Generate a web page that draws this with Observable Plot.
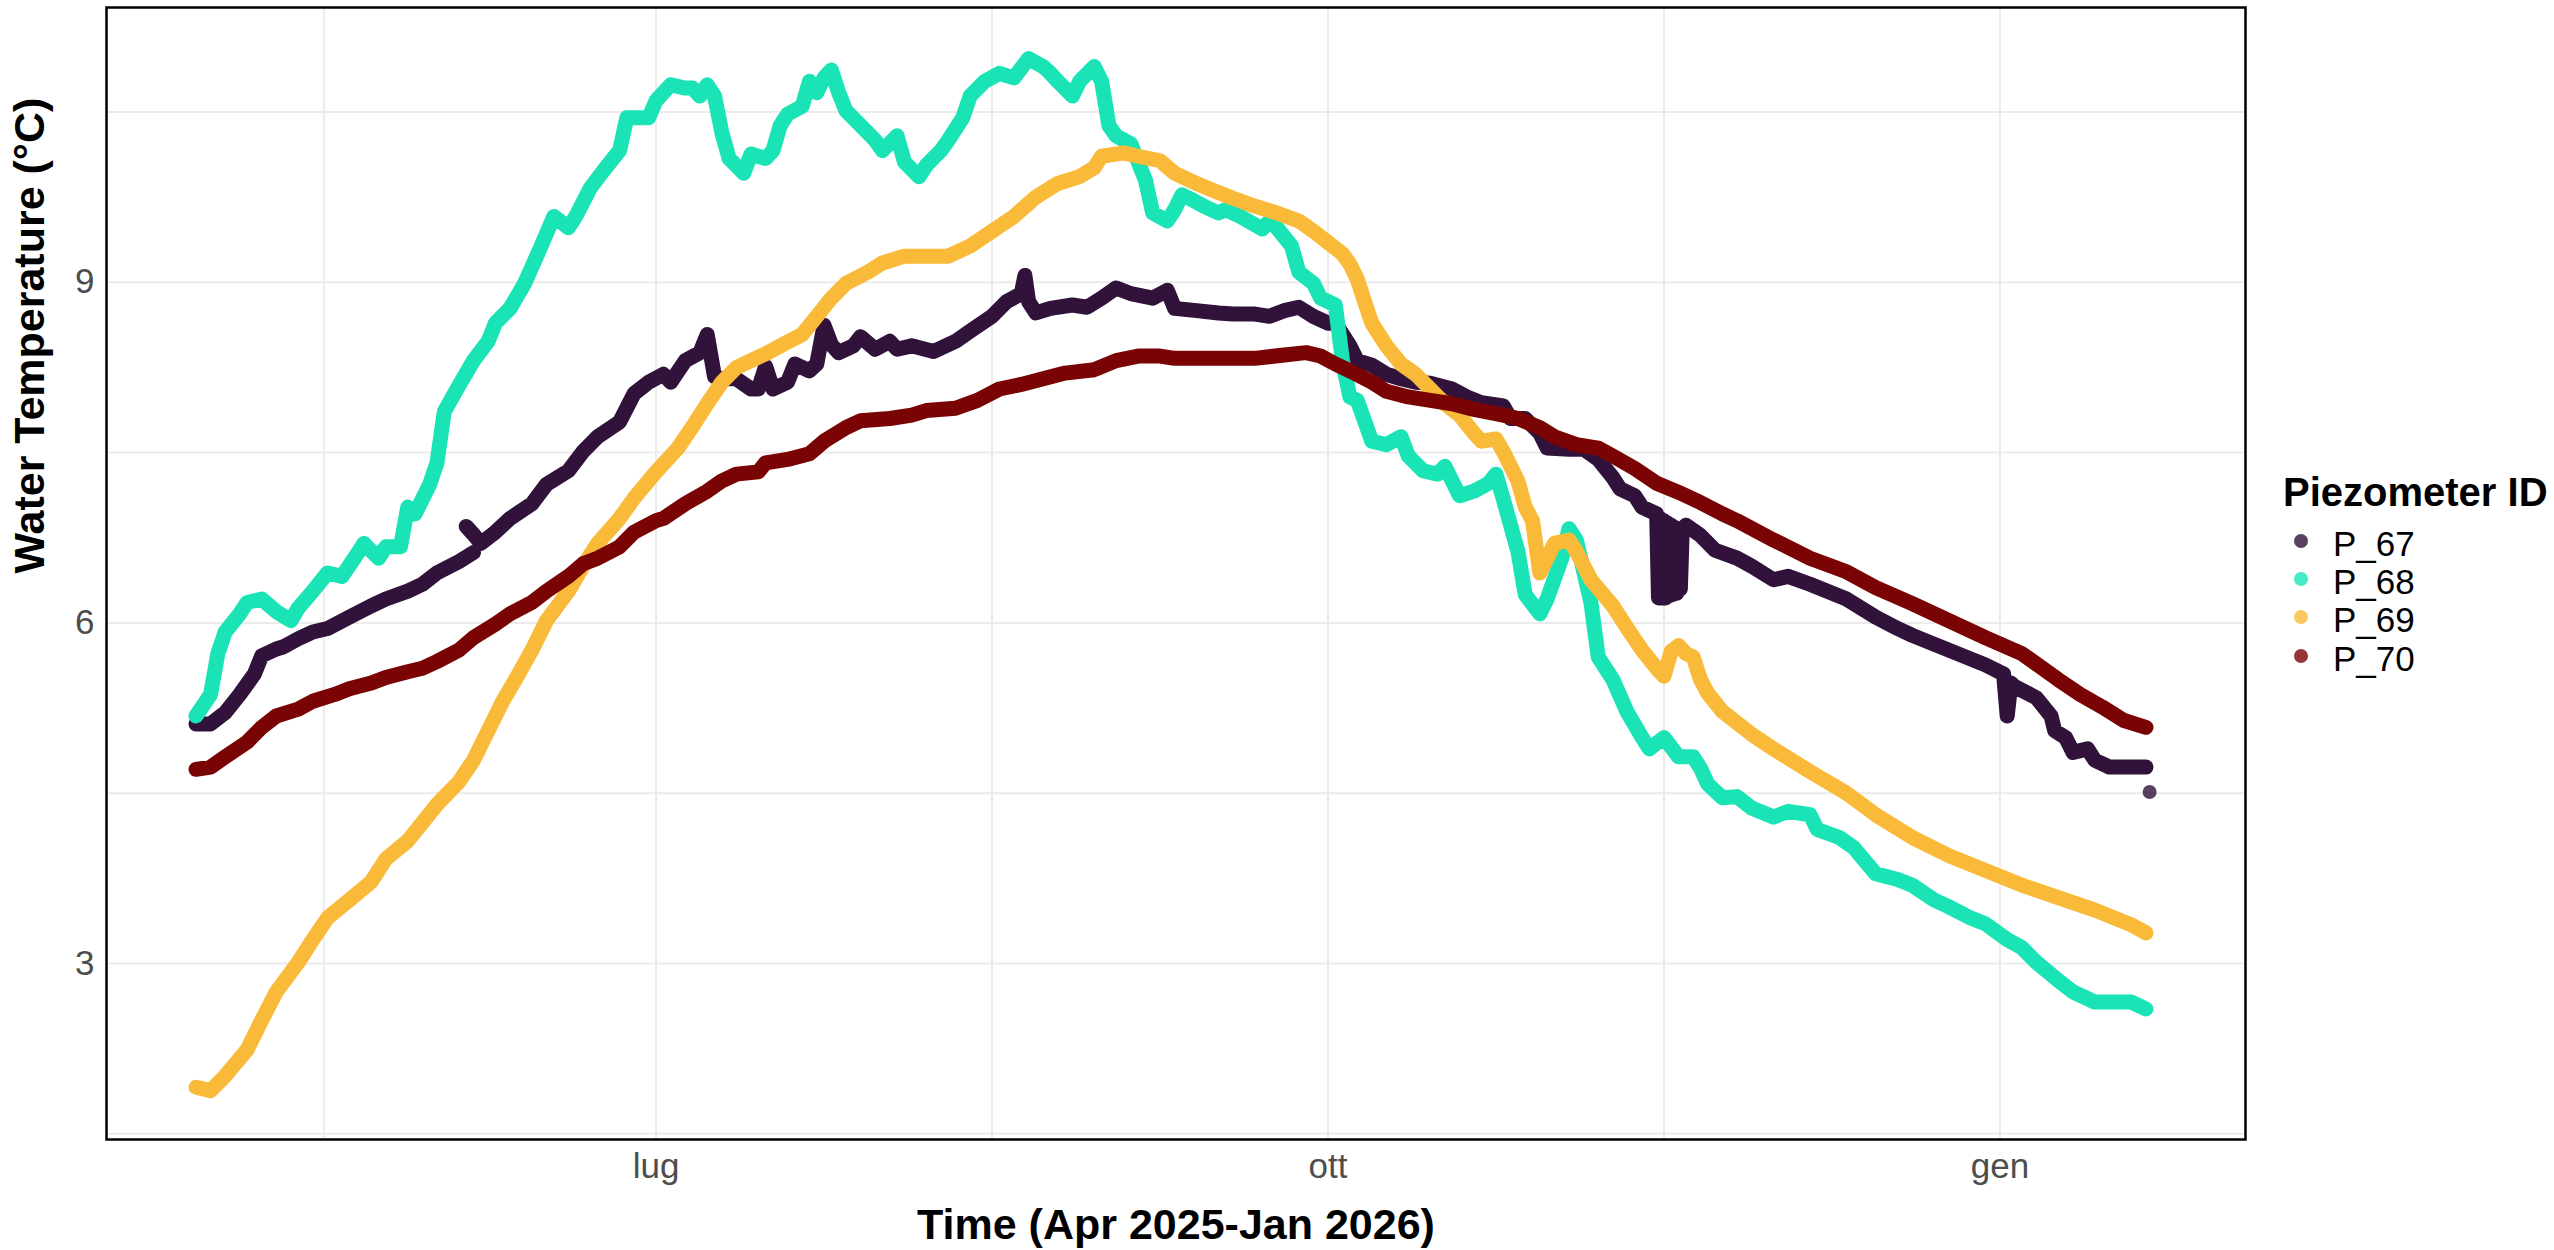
<!DOCTYPE html>
<html>
<head>
<meta charset="utf-8">
<script src="https://cdn.jsdelivr.net/npm/d3@7"></script>
<script src="https://cdn.jsdelivr.net/npm/@observablehq/plot@0.6"></script>
<style>
  html, body { margin: 0; padding: 0; background: #ffffff; }
  #wrap { position: relative; width: 2554px; height: 1250px; font-family: "Liberation Sans", Arial, sans-serif; }
  #legend { position: absolute; left: 0; top: 0; width: 0; height: 0; }
  .lg-title { position: absolute; left: 2283px; font-size: 40px; font-weight: bold; line-height: 1; white-space: nowrap; color: #000; }
  .lg-item { position: absolute; left: 2333px; font-size: 35px; line-height: 1; white-space: nowrap; color: #000; }
  .lg-dot { position: absolute; width: 14px; height: 14px; border-radius: 50%; opacity: 0.8; }
  g[aria-label="x-axis tick label"], g[aria-label="y-axis tick label"] { fill: #4d4d4d; }
</style>
</head>
<body>
<div id="wrap"><div id="chart"></div><div id="legend"></div></div>
<script>
// ---- data ----
const seriesIds = ["P_67", "P_68", "P_69", "P_70"];
const seriesColors = ["#30123B", "#1AE4B6", "#FABA39", "#7A0403"];

const xTickDates = ["2025-07-01", "2025-10-01", "2026-01-01"];
const xTickLabels = ["lug", "ott", "gen"];
const xMinorDates = ["2025-05-16T12:00Z", "2025-08-16", "2025-11-16"];
const yTicks = [3, 6, 9];
const yMinorTicks = [1.5, 4.5, 7.5, 10.5];
const xDomain = ["2025-04-16T18:00Z", "2026-02-03T15:00Z"];
const yDomain = [1.45, 11.42];

const p67 = [
  ["2025-04-29", 5.11], ["2025-05-01", 5.11], ["2025-05-03", 5.21], ["2025-05-05", 5.37],
  ["2025-05-07", 5.55], ["2025-05-08", 5.71], ["2025-05-10", 5.77], ["2025-05-11", 5.79],
  ["2025-05-13", 5.86], ["2025-05-15", 5.92], ["2025-05-17", 5.95], ["2025-05-20", 6.05],
  ["2025-05-23", 6.15], ["2025-05-25", 6.21], ["2025-05-28", 6.28], ["2025-05-30", 6.34],
  ["2025-06-01", 6.44], ["2025-06-04", 6.54], ["2025-06-06", 6.62],
  ["2025-06-06", null],
  ["2025-06-05", 6.85], ["2025-06-06", 6.78], ["2025-06-07", 6.70], ["2025-06-09", 6.80],
  ["2025-06-11", 6.92], ["2025-06-14", 7.05], ["2025-06-16", 7.22], ["2025-06-19", 7.34],
  ["2025-06-21", 7.51], ["2025-06-23", 7.64], ["2025-06-26", 7.77], ["2025-06-28", 8.02],
  ["2025-06-30", 8.12], ["2025-07-02", 8.19], ["2025-07-03", 8.12], ["2025-07-05", 8.31],
  ["2025-07-07", 8.38], ["2025-07-08", 8.54], ["2025-07-09", 8.17], ["2025-07-10", 8.15],
  ["2025-07-12", 8.15], ["2025-07-14", 8.06], ["2025-07-15", 8.06], ["2025-07-16", 8.26],
  ["2025-07-17", 8.06], ["2025-07-19", 8.12], ["2025-07-20", 8.28], ["2025-07-22", 8.22],
  ["2025-07-23", 8.28], ["2025-07-24", 8.62], ["2025-07-25", 8.45], ["2025-07-26", 8.38],
  ["2025-07-28", 8.44], ["2025-07-29", 8.52], ["2025-07-31", 8.41], ["2025-08-02", 8.48],
  ["2025-08-03", 8.41], ["2025-08-05", 8.44], ["2025-08-08", 8.39], ["2025-08-11", 8.48],
  ["2025-08-13", 8.57], ["2025-08-16", 8.70], ["2025-08-18", 8.83], ["2025-08-20", 8.90],
  ["2025-08-20T12:00Z", 9.06], ["2025-08-21", 8.83], ["2025-08-22", 8.73], ["2025-08-24", 8.77],
  ["2025-08-27", 8.80], ["2025-08-29", 8.78], ["2025-08-31", 8.86], ["2025-09-02", 8.95],
  ["2025-09-04", 8.90], ["2025-09-07", 8.86], ["2025-09-09", 8.93], ["2025-09-10", 8.77],
  ["2025-09-13", 8.75], ["2025-09-16", 8.73], ["2025-09-18", 8.72], ["2025-09-21", 8.72],
  ["2025-09-23", 8.70], ["2025-09-25", 8.75], ["2025-09-27", 8.78], ["2025-09-29", 8.70],
  ["2025-10-01", 8.64], ["2025-10-02", 8.64], ["2025-10-04", 8.44], ["2025-10-05", 8.31],
  ["2025-10-07", 8.27], ["2025-10-09", 8.19], ["2025-10-11", 8.15], ["2025-10-13", 8.12],
  ["2025-10-15", 8.11], ["2025-10-18", 8.06], ["2025-10-20", 7.99], ["2025-10-22", 7.94],
  ["2025-10-25", 7.91], ["2025-10-26", 7.80], ["2025-10-28", 7.80], ["2025-10-30", 7.67],
  ["2025-10-31", 7.54], ["2025-11-03", 7.53], ["2025-11-05", 7.53], ["2025-11-07", 7.44],
  ["2025-11-09", 7.28], ["2025-11-10", 7.18], ["2025-11-12", 7.12], ["2025-11-13", 7.02],
  ["2025-11-15", 6.96], ["2025-11-15T06:00Z", 6.22], ["2025-11-15T12:00Z", 6.92], ["2025-11-15T18:00Z", 6.22],
  ["2025-11-16", 6.90], ["2025-11-16T06:00Z", 6.22], ["2025-11-16T12:00Z", 6.88], ["2025-11-16T18:00Z", 6.24],
  ["2025-11-17", 6.86], ["2025-11-17T06:00Z", 6.25], ["2025-11-17T12:00Z", 6.84], ["2025-11-17T18:00Z", 6.26],
  ["2025-11-18", 6.82], ["2025-11-18T06:00Z", 6.30], ["2025-11-18T12:00Z", 6.82],
  ["2025-11-19", 6.86], ["2025-11-21", 6.77], ["2025-11-23", 6.64],
  ["2025-11-26", 6.57], ["2025-11-28", 6.50], ["2025-12-01", 6.38], ["2025-12-03", 6.41],
  ["2025-12-06", 6.34], ["2025-12-11", 6.21], ["2025-12-15", 6.05], ["2025-12-18", 5.95],
  ["2025-12-20", 5.89], ["2025-12-25", 5.76], ["2025-12-30", 5.63], ["2026-01-01T12:00Z", 5.55],
  ["2026-01-02", 5.18], ["2026-01-02T12:00Z", 5.47], ["2026-01-03", 5.44], ["2026-01-06", 5.34],
  ["2026-01-08", 5.18], ["2026-01-08T12:00Z", 5.05], ["2026-01-10", 4.99], ["2026-01-11", 4.86],
  ["2026-01-13", 4.89], ["2026-01-14", 4.79], ["2026-01-16", 4.73], ["2026-01-18", 4.73],
  ["2026-01-21", 4.73]
];
const p67Outliers = [["2026-01-21T12:00Z", 4.51]];

const p68 = [
  ["2025-04-29", 5.18], ["2025-05-01", 5.37], ["2025-05-02", 5.73], ["2025-05-03", 5.92],
  ["2025-05-05", 6.08], ["2025-05-06", 6.18], ["2025-05-08", 6.21], ["2025-05-10", 6.10],
  ["2025-05-12", 6.02], ["2025-05-13", 6.13], ["2025-05-15", 6.28], ["2025-05-17", 6.44],
  ["2025-05-19", 6.41], ["2025-05-21", 6.60], ["2025-05-22", 6.70], ["2025-05-24", 6.57],
  ["2025-05-25", 6.67], ["2025-05-27", 6.67], ["2025-05-28", 7.02], ["2025-05-29", 6.96],
  ["2025-05-31", 7.22], ["2025-06-01", 7.41], ["2025-06-02", 7.86], ["2025-06-04", 8.09],
  ["2025-06-06", 8.31], ["2025-06-08", 8.48], ["2025-06-09", 8.64], ["2025-06-11", 8.77],
  ["2025-06-13", 8.99], ["2025-06-15", 9.28], ["2025-06-17", 9.58], ["2025-06-19", 9.48],
  ["2025-06-20", 9.58], ["2025-06-22", 9.83], ["2025-06-24", 10.00], ["2025-06-26", 10.16],
  ["2025-06-27", 10.45], ["2025-06-29", 10.45], ["2025-06-30", 10.45], ["2025-07-01", 10.60],
  ["2025-07-03", 10.74], ["2025-07-05", 10.71], ["2025-07-06", 10.71], ["2025-07-07", 10.64],
  ["2025-07-08", 10.74], ["2025-07-09", 10.64], ["2025-07-10", 10.32], ["2025-07-11", 10.09],
  ["2025-07-13", 9.96], ["2025-07-14", 10.13], ["2025-07-16", 10.09], ["2025-07-17", 10.16],
  ["2025-07-18", 10.38], ["2025-07-19", 10.48], ["2025-07-21", 10.55], ["2025-07-22", 10.77],
  ["2025-07-23", 10.67], ["2025-07-24", 10.80], ["2025-07-25", 10.87], ["2025-07-26", 10.67],
  ["2025-07-27", 10.51], ["2025-07-29", 10.38], ["2025-07-31", 10.25], ["2025-08-01", 10.16],
  ["2025-08-03", 10.29], ["2025-08-04", 10.06], ["2025-08-06", 9.93], ["2025-08-07", 10.03],
  ["2025-08-09", 10.16], ["2025-08-10", 10.25], ["2025-08-12", 10.45], ["2025-08-13", 10.64],
  ["2025-08-15", 10.77], ["2025-08-17", 10.84], ["2025-08-19", 10.80], ["2025-08-21", 10.97],
  ["2025-08-23", 10.90], ["2025-08-24", 10.84], ["2025-08-25", 10.77], ["2025-08-27", 10.64],
  ["2025-08-28", 10.77], ["2025-08-30", 10.90], ["2025-08-31", 10.77], ["2025-09-01", 10.38],
  ["2025-09-02", 10.29], ["2025-09-04", 10.22], ["2025-09-05", 10.06], ["2025-09-06", 9.90],
  ["2025-09-07", 9.61], ["2025-09-09", 9.54], ["2025-09-10", 9.64], ["2025-09-11", 9.77],
  ["2025-09-12", 9.74], ["2025-09-14", 9.67], ["2025-09-16", 9.61], ["2025-09-17", 9.64],
  ["2025-09-19", 9.58], ["2025-09-22", 9.47], ["2025-09-23", 9.54], ["2025-09-24", 9.48],
  ["2025-09-26", 9.32], ["2025-09-27", 9.09], ["2025-09-29", 8.99], ["2025-09-30", 8.86],
  ["2025-10-02", 8.80], ["2025-10-03", 8.30], ["2025-10-04", 7.99], ["2025-10-05", 7.96],
  ["2025-10-07", 7.60], ["2025-10-09", 7.57], ["2025-10-11", 7.64], ["2025-10-12", 7.47],
  ["2025-10-14", 7.34], ["2025-10-16", 7.31], ["2025-10-17", 7.38], ["2025-10-19", 7.12],
  ["2025-10-21", 7.16], ["2025-10-23", 7.23], ["2025-10-24", 7.31], ["2025-10-25", 7.09],
  ["2025-10-27", 6.63], ["2025-10-28", 6.25], ["2025-10-30", 6.08], ["2025-10-31", 6.21],
  ["2025-11-02", 6.57], ["2025-11-03", 6.83], ["2025-11-04", 6.73], ["2025-11-06", 6.18],
  ["2025-11-07", 5.70], ["2025-11-09", 5.50], ["2025-11-11", 5.21], ["2025-11-13", 4.99],
  ["2025-11-14", 4.89], ["2025-11-16", 4.99], ["2025-11-18", 4.82], ["2025-11-20", 4.82],
  ["2025-11-21", 4.72], ["2025-11-22", 4.58], ["2025-11-24", 4.46], ["2025-11-26", 4.47],
  ["2025-11-28", 4.37], ["2025-12-01", 4.29], ["2025-12-03", 4.34], ["2025-12-06", 4.31],
  ["2025-12-07", 4.18], ["2025-12-10", 4.11], ["2025-12-12", 4.02], ["2025-12-15", 3.79],
  ["2025-12-18", 3.74], ["2025-12-20", 3.69], ["2025-12-23", 3.56], ["2025-12-25", 3.50],
  ["2025-12-28", 3.40], ["2025-12-30", 3.35], ["2026-01-02", 3.21], ["2026-01-04", 3.14],
  ["2026-01-06", 3.01], ["2026-01-09", 2.85], ["2026-01-11", 2.75], ["2026-01-14", 2.66],
  ["2026-01-16", 2.66], ["2026-01-19", 2.66], ["2026-01-21", 2.60]
];

const p69 = [
  ["2025-04-29", 1.91], ["2025-05-01", 1.88], ["2025-05-03", 2.01], ["2025-05-06", 2.24],
  ["2025-05-08", 2.50], ["2025-05-10", 2.75], ["2025-05-13", 3.01], ["2025-05-15", 3.21],
  ["2025-05-17", 3.40], ["2025-05-20", 3.56], ["2025-05-23", 3.72], ["2025-05-25", 3.92],
  ["2025-05-28", 4.08], ["2025-05-30", 4.24], ["2025-06-01", 4.40], ["2025-06-04", 4.60],
  ["2025-06-06", 4.79], ["2025-06-08", 5.05], ["2025-06-10", 5.31], ["2025-06-12", 5.53],
  ["2025-06-14", 5.76], ["2025-06-16", 6.02], ["2025-06-19", 6.28], ["2025-06-21", 6.50],
  ["2025-06-23", 6.70], ["2025-06-26", 6.92], ["2025-06-28", 7.10], ["2025-07-01", 7.33],
  ["2025-07-04", 7.54], ["2025-07-06", 7.73], ["2025-07-08", 7.93], ["2025-07-10", 8.12],
  ["2025-07-12", 8.25], ["2025-07-14", 8.31], ["2025-07-16", 8.37], ["2025-07-18", 8.44],
  ["2025-07-21", 8.54], ["2025-07-23", 8.70], ["2025-07-25", 8.86], ["2025-07-27", 8.99],
  ["2025-07-30", 9.09], ["2025-08-01", 9.17], ["2025-08-04", 9.23], ["2025-08-07", 9.23],
  ["2025-08-10", 9.23], ["2025-08-13", 9.32], ["2025-08-16", 9.45], ["2025-08-19", 9.58],
  ["2025-08-22", 9.75], ["2025-08-25", 9.87], ["2025-08-28", 9.93], ["2025-08-30", 10.01],
  ["2025-08-31", 10.11], ["2025-09-03", 10.14], ["2025-09-05", 10.11], ["2025-09-08", 10.07],
  ["2025-09-10", 9.96], ["2025-09-13", 9.87], ["2025-09-16", 9.79], ["2025-09-18", 9.74],
  ["2025-09-21", 9.67], ["2025-09-24", 9.61], ["2025-09-27", 9.54], ["2025-09-29", 9.45],
  ["2025-10-01", 9.35], ["2025-10-03", 9.25], ["2025-10-04", 9.16], ["2025-10-05", 9.03],
  ["2025-10-06", 8.83], ["2025-10-07", 8.64], ["2025-10-09", 8.44], ["2025-10-11", 8.28],
  ["2025-10-13", 8.19], ["2025-10-15", 8.06], ["2025-10-17", 7.93], ["2025-10-19", 7.83],
  ["2025-10-21", 7.67], ["2025-10-22", 7.60], ["2025-10-24", 7.62], ["2025-10-25", 7.51],
  ["2025-10-27", 7.25], ["2025-10-28", 7.02], ["2025-10-29", 6.90], ["2025-10-30", 6.44],
  ["2025-11-01", 6.70], ["2025-11-03", 6.73], ["2025-11-04", 6.63], ["2025-11-06", 6.38],
  ["2025-11-09", 6.15], ["2025-11-11", 5.95], ["2025-11-13", 5.76], ["2025-11-15", 5.60],
  ["2025-11-16", 5.53], ["2025-11-17", 5.75], ["2025-11-18", 5.80], ["2025-11-19", 5.73],
  ["2025-11-20", 5.70], ["2025-11-21", 5.50], ["2025-11-22", 5.38], ["2025-11-24", 5.22],
  ["2025-11-26", 5.12], ["2025-11-28", 5.02], ["2025-12-01", 4.89], ["2025-12-06", 4.69],
  ["2025-12-11", 4.50], ["2025-12-15", 4.31], ["2025-12-20", 4.11], ["2025-12-25", 3.95],
  ["2025-12-30", 3.82], ["2026-01-04", 3.69], ["2026-01-09", 3.58], ["2026-01-14", 3.47],
  ["2026-01-19", 3.34], ["2026-01-21", 3.27]
];

const p70 = [
  ["2025-04-29", 4.71], ["2025-05-01", 4.73], ["2025-05-03", 4.82], ["2025-05-06", 4.95],
  ["2025-05-08", 5.08], ["2025-05-10", 5.18], ["2025-05-13", 5.24], ["2025-05-15", 5.31],
  ["2025-05-18", 5.37], ["2025-05-20", 5.42], ["2025-05-23", 5.47], ["2025-05-25", 5.52],
  ["2025-05-28", 5.57], ["2025-05-30", 5.60], ["2025-06-01", 5.66], ["2025-06-04", 5.76],
  ["2025-06-06", 5.87], ["2025-06-09", 5.99], ["2025-06-11", 6.08], ["2025-06-14", 6.18],
  ["2025-06-16", 6.28], ["2025-06-19", 6.41], ["2025-06-21", 6.52], ["2025-06-23", 6.57],
  ["2025-06-26", 6.67], ["2025-06-28", 6.80], ["2025-07-01", 6.90], ["2025-07-02", 6.92],
  ["2025-07-05", 7.05], ["2025-07-08", 7.16], ["2025-07-10", 7.25], ["2025-07-12", 7.31],
  ["2025-07-15", 7.33], ["2025-07-16", 7.41], ["2025-07-19", 7.44], ["2025-07-22", 7.49],
  ["2025-07-24", 7.60], ["2025-07-27", 7.72], ["2025-07-29", 7.78], ["2025-08-02", 7.80],
  ["2025-08-05", 7.83], ["2025-08-07", 7.87], ["2025-08-11", 7.89], ["2025-08-14", 7.96],
  ["2025-08-17", 8.06], ["2025-08-20", 8.10], ["2025-08-23", 8.15], ["2025-08-26", 8.20],
  ["2025-08-30", 8.23], ["2025-09-02", 8.31], ["2025-09-05", 8.35], ["2025-09-08", 8.35],
  ["2025-09-10", 8.33], ["2025-09-13", 8.33], ["2025-09-16", 8.33], ["2025-09-21", 8.33],
  ["2025-09-25", 8.36], ["2025-09-28", 8.38], ["2025-09-30", 8.35], ["2025-10-02", 8.28],
  ["2025-10-04", 8.22], ["2025-10-07", 8.12], ["2025-10-09", 8.04], ["2025-10-12", 7.99],
  ["2025-10-15", 7.96], ["2025-10-18", 7.93], ["2025-10-21", 7.88], ["2025-10-25", 7.83],
  ["2025-10-27", 7.80], ["2025-10-30", 7.72], ["2025-11-01", 7.64], ["2025-11-04", 7.57],
  ["2025-11-07", 7.54], ["2025-11-09", 7.47], ["2025-11-12", 7.36], ["2025-11-15", 7.23],
  ["2025-11-18", 7.15], ["2025-11-21", 7.06], ["2025-11-24", 6.96], ["2025-11-26", 6.90],
  ["2025-12-01", 6.73], ["2025-12-06", 6.57], ["2025-12-11", 6.45], ["2025-12-15", 6.31],
  ["2025-12-20", 6.17], ["2025-12-25", 6.02], ["2025-12-30", 5.87], ["2026-01-04", 5.73],
  ["2026-01-09", 5.50], ["2026-01-12", 5.37], ["2026-01-15", 5.26], ["2026-01-18", 5.14],
  ["2026-01-20", 5.10], ["2026-01-21", 5.08]
];

// ---- build table ----
const seriesData = [p67, p68, p69, p70];
const rows = seriesData.flatMap((arr, i) =>
  arr.map(([d, t]) => ({id: seriesIds[i], date: new Date(d), temp: t == null ? NaN : t})));
const outlierRows = p67Outliers.map(([d, t]) => ({id: "P_67", date: new Date(d), temp: t}));

const tickDates = xTickDates.map(d => new Date(d));
const minorDates = xMinorDates.map(d => new Date(d));
const fmtX = d => {
  const i = tickDates.findIndex(t => +t === +d);
  return i >= 0 ? xTickLabels[i] : "";
};

const chart = Plot.plot({
  width: 2554,
  height: 1250,
  marginLeft: 106,
  marginRight: 309,
  marginTop: 7,
  marginBottom: 111,
  style: {fontFamily: "'Liberation Sans', Arial, sans-serif", background: "#ffffff", overflow: "visible"},
  x: {type: "utc", domain: xDomain.map(d => new Date(d))},
  y: {domain: yDomain},
  color: {domain: seriesIds, range: seriesColors},
  marks: [
    Plot.gridY(yMinorTicks.concat(yTicks), {stroke: "#ebebeb", strokeOpacity: 1, strokeWidth: 2}),
    Plot.gridX(minorDates.concat(tickDates), {stroke: "#ebebeb", strokeOpacity: 1, strokeWidth: 2}),
    Plot.line(rows, {x: "date", y: "temp", z: "id", stroke: "id", strokeWidth: 15,
      strokeLinecap: "round", strokeLinejoin: "round"}),
    Plot.dot(outlierRows, {x: "date", y: "temp", fill: "id", r: 7, fillOpacity: 0.8, stroke: null}),
    Plot.frame({stroke: "#000000", strokeWidth: 2.5}),
    Plot.axisX(tickDates, {tickSize: 0, tickPadding: 14, fontSize: 35, tickFormat: fmtX, label: null}),
    Plot.axisY(yTicks, {tickSize: 0, tickPadding: 12, fontSize: 35, tickFormat: d => String(d), label: null}),
    Plot.text(["Time (Apr 2025-Jan 2026)"], {frameAnchor: "bottom", dy: 99, lineAnchor: "bottom",
      fontSize: 43, fontWeight: "bold", fill: "#000000"}),
    Plot.text(["Water Temperature (°C)"], {frameAnchor: "left", dx: -63, rotate: -90, lineAnchor: "bottom",
      fontSize: 43, fontWeight: "bold", fill: "#000000"})
  ]
});
document.getElementById("chart").appendChild(chart);

// ---- legend ----
const legend = document.getElementById("legend");
const title = document.createElement("div");
title.className = "lg-title";
title.textContent = "Piezometer ID";
title.style.top = (506 - 34) + "px";
legend.appendChild(title);
const baselines = [556, 594, 632, 671];
seriesIds.forEach((id, i) => {
  const dot = document.createElement("div");
  dot.className = "lg-dot";
  dot.style.background = seriesColors[i];
  dot.style.left = (2301 - 7) + "px";
  dot.style.top = (baselines[i] - 15 - 7) + "px";
  legend.appendChild(dot);
  const lab = document.createElement("div");
  lab.className = "lg-item";
  lab.textContent = id;
  lab.style.top = (baselines[i] - 30) + "px";
  legend.appendChild(lab);
});
</script>
</body>
</html>
